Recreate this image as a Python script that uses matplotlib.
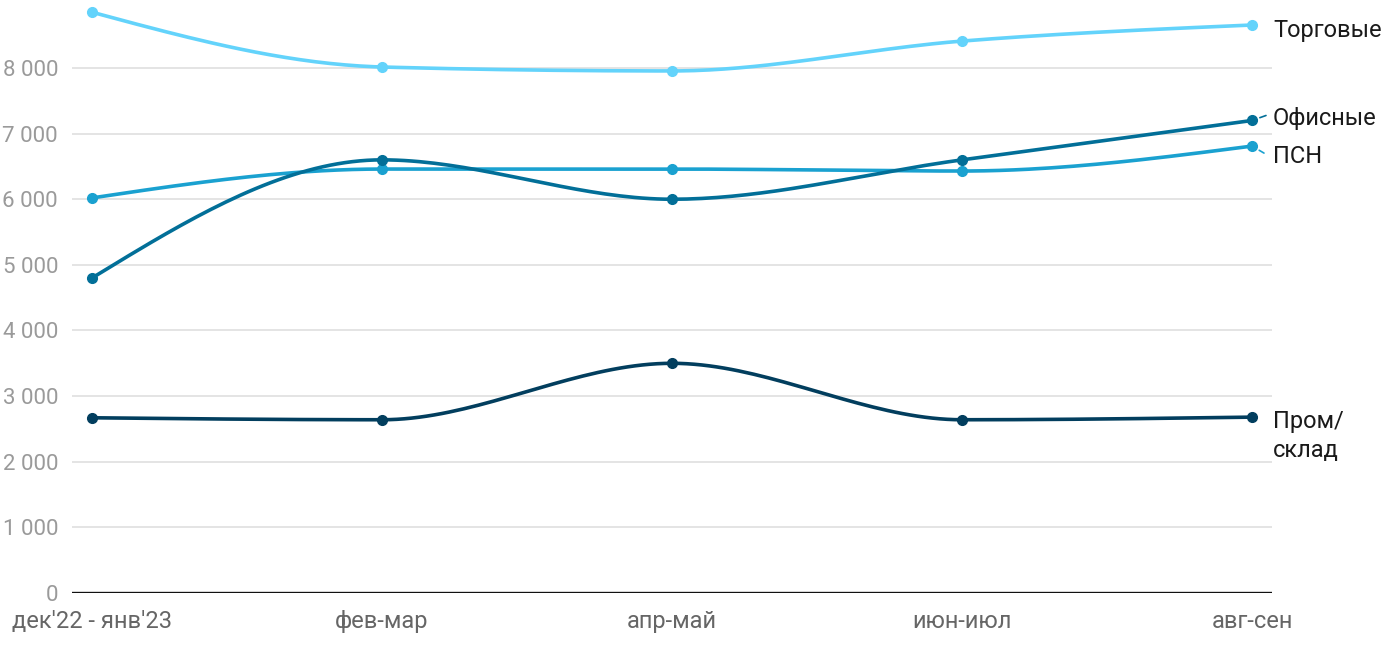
import numpy as np
import matplotlib
matplotlib.use("Agg")
import matplotlib.pyplot as plt

plt.rcParams['font.family'] = ['Roboto', 'DejaVu Sans']

categories = ["дек'22 - янв'23", "фев-мар", "апр-май", "июн-июл", "авг-сен"]
torg = [8850, 8015, 7955, 8410, 8655]
ofis = [4800, 6600, 6000, 6600, 7200]
psn = [6020, 6460, 6460, 6430, 6810]
prom = [2670, 2640, 3500, 2640, 2680]

series = [
    ("Торговые", torg, "#63d3fb"),
    ("ПСН", psn, "#1aa1d0"),
    ("Офисные", ofis, "#026f98"),
    ("Пром/\nсклад", prom, "#023e5e"),
]
yticks = [0, 1000, 2000, 3000, 4000, 5000, 6000, 7000, 8000]


def monotone_x(x, y, n=40):
    x = np.asarray(x, float); y = np.asarray(y, float)
    h = np.diff(x); s = np.diff(y) / h
    m = np.zeros(len(x))
    for i in range(1, len(x) - 1):
        s0, s1 = s[i - 1], s[i]
        p = (s0 * h[i] + s1 * h[i - 1]) / (h[i - 1] + h[i])
        m[i] = (np.sign(s0) + np.sign(s1)) * min(abs(s0), abs(s1), 0.5 * abs(p))
    m[0] = (3 * s[0] - m[1]) / 2
    m[-1] = (3 * s[-1] - m[-2]) / 2
    xs, ys = [], []
    for i in range(len(x) - 1):
        t = np.linspace(0, 1, n)
        x0, x1 = x[i], x[i + 1]; y0, y1 = y[i], y[i + 1]
        dx = (x1 - x0) / 3
        P = [(x0, y0), (x0 + dx, y0 + dx * m[i]), (x1 - dx, y1 - dx * m[i + 1]), (x1, y1)]
        bx = ((1 - t) ** 3) * P[0][0] + 3 * (1 - t) ** 2 * t * P[1][0] + 3 * (1 - t) * t ** 2 * P[2][0] + t ** 3 * P[3][0]
        by = ((1 - t) ** 3) * P[0][1] + 3 * (1 - t) ** 2 * t * P[1][1] + 3 * (1 - t) * t ** 2 * P[2][1] + t ** 3 * P[3][1]
        xs.extend(bx); ys.extend(by)
    return np.array(xs), np.array(ys)


fig = plt.figure(figsize=(14, 6.5), dpi=100)
ax = fig.add_axes([72 / 1400, 1 - 593 / 650, 1200 / 1400, 593 / 650])
ax.set_xlim(-0.069, 4.069)
ax.set_ylim(0, 9036)

xi = np.arange(len(categories))
for name, vals, col in series:
    sx, sy = monotone_x(xi, vals)
    ax.plot(sx, sy, color=col, lw=2.6, solid_capstyle='round', zorder=3)
    ax.plot(xi, vals, 'o', color=col, ms=7, zorder=4)

for y in yticks[1:]:
    ax.axhline(y, color="#e2e2e2", lw=1.3, zorder=1)
ax.axhline(0, color="#111111", lw=1.7, zorder=2)

ax.set_yticks(yticks)
ax.set_yticklabels([f"{v:,}".replace(",", "\u00a0") for v in yticks])
ax.set_xticks(xi)
ax.set_xticklabels(categories)
ax.tick_params(axis='y', length=0, pad=10, labelsize=16, labelcolor="#9a9a9a")
ax.tick_params(axis='x', length=0, pad=12, labelsize=17, labelcolor="#666666")
for s in ax.spines.values():
    s.set_visible(False)

# right-side labels
label_pos = {"Торговые": 30, "Офисные": 118, "ПСН": 157, "Пром/\nсклад": 436}
for name, vals, col in series:
    ypix = label_pos[name]
    fig.text(1273 / 1400, 1 - ypix / 650, name, fontsize=17, color="#1a1a1a",
             va='center', ha='left', linespacing=1.32)

# small connectors
ax.annotate("", xy=(4.0, ofis[-1]), xytext=(14, 5), textcoords='offset pixels',
            arrowprops=dict(arrowstyle='-', color=series[2][2], lw=1.2, shrinkA=0, shrinkB=6))
ax.annotate("", xy=(4.0, psn[-1]), xytext=(12, -7), textcoords='offset pixels',
            arrowprops=dict(arrowstyle='-', color=series[1][2], lw=1.2, shrinkA=0, shrinkB=6))

fig.savefig("out.png", dpi=100)
